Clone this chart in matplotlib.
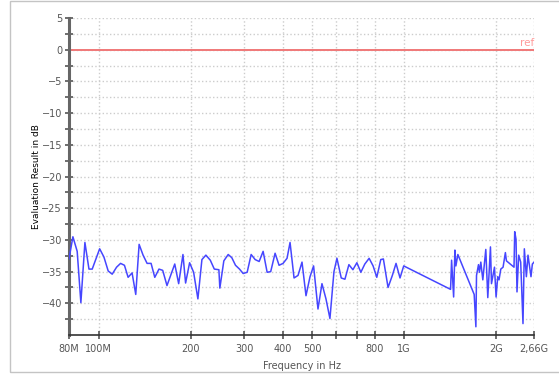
import numpy as np
import matplotlib
matplotlib.use('Agg')
import matplotlib.pyplot as plt
from matplotlib.patches import Rectangle
from matplotlib.ticker import FixedLocator, NullFormatter

# Frequencies in MHz and evaluation results in dB
freq_mhz = [
    80.0, 82.4, 85.1, 87.5, 90.2, 93.0, 95.3, 100.8, 104.1, 107.5,
    110.8, 114.5, 118.0, 121.5, 124.9, 128.7, 132.3, 135.7, 139.8, 144.1,
    148.5, 152.7, 157.6, 162.1, 167.4, 177.5, 182.8, 188.8, 192.6, 198.5,
    204.6, 211.3, 217.8, 224.4, 232.0, 239.1, 247.5, 249.3, 256.9, 265.5,
    272.8, 280.5, 289.1, 297.2, 306.3, 315.6, 325.3, 335.2, 345.4, 356.0,
    365.7, 378.0, 389.5, 401.4, 413.6, 423.1, 436.0, 449.3, 463.0, 477.1,
    491.8, 505.2, 522.2, 538.1, 554.6, 571.4, 589.0, 602.4, 622.2, 639.7,
    659.2, 679.3, 700.0, 721.3, 743.2, 767.7, 791.0, 813.3, 838.1, 854.7,
    885.3, 914.5, 940.2, 968.9, 996.2, 1418, 1429, 1451, 1465, 1476,
    1498, 1694, 1716, 1724, 1750, 1763, 1781, 1808, 1849, 1877,
    1915, 1930, 1974, 1998, 2023, 2043, 2070, 2106, 2143, 2160,
    2287, 2299, 2322, 2339, 2369, 2405, 2447, 2472, 2510, 2541,
    2599, 2626, 2660,
]
result_db = [
    -33.0, -29.5, -31.8, -39.9, -30.4, -34.6, -34.6, -31.4, -32.7, -34.9,
    -35.4, -34.3, -33.7, -34.0, -35.9, -35.2, -38.6, -30.7, -32.4, -33.7,
    -33.7, -35.9, -34.6, -34.8, -37.2, -33.8, -36.9, -32.3, -36.8, -33.6,
    -35.1, -39.3, -33.1, -32.4, -33.2, -34.6, -34.7, -37.6, -33.3, -32.3,
    -32.8, -34.0, -34.6, -35.3, -35.1, -32.3, -33.1, -33.4, -31.8, -35.1,
    -35.0, -32.1, -34.0, -33.7, -32.9, -30.4, -36.0, -35.6, -33.5, -38.8,
    -35.8, -34.1, -40.9, -36.9, -39.3, -42.4, -35.0, -32.9, -36.0, -36.2,
    -33.9, -34.7, -33.6, -35.1, -33.8, -32.9, -34.1, -35.9, -33.1, -33.0,
    -37.5, -35.6, -33.7, -36.0, -34.1, -37.8, -33.2, -39.0, -31.6, -34.1,
    -32.3, -38.6, -43.7, -35.6, -33.9, -35.1, -33.5, -36.3, -31.5, -39.1,
    -31.1, -36.9, -34.3, -39.0, -35.8, -36.3, -34.6, -34.3, -32.0, -33.3,
    -34.3, -28.7, -29.9, -38.2, -32.4, -33.5, -43.2, -31.4, -35.8, -32.4,
    -35.8, -33.8, -33.5,
]

# Reference level and axis ticks
ref_db = 0
x_ticks_mhz = [80, 100, 200, 300, 400, 500, 600, 700, 800, 1000, 2000, 2660]
x_tick_labels = ['80M', '100M', '200', '300', '400', '500', '', '', '800', '1G', '2G', '2,66G']
y_major = [5, 0, -5, -10, -15, -20, -25, -30, -35, -40]
y_minor = [2.5, -2.5, -7.5, -12.5, -17.5, -22.5, -27.5, -32.5, -37.5, -42.5]

plt.rcParams['font.family'] = ['DejaVu Sans']

fig = plt.figure(figsize=(5.59, 3.76), dpi=100)
ax = fig.add_axes([0.1234, 0.109, 0.832, 0.843])

# light frame around the whole picture (open on the right)
fig.patches.append(Rectangle((10 / 559, 0.0106), 1.2, 0.986, transform=fig.transFigure,
                             fill=False, edgecolor='#c4c4c4', linewidth=1.0))

freq = np.array(freq_mhz) * 1e6
ax.plot(freq, result_db, color='#4646ff', linewidth=1.1, zorder=3)
ax.axhline(ref_db, color='#f07878', linewidth=1.4, zorder=2)
ax.text(2660e6, ref_db + 0.3, 'ref', color='#ff9a9a', fontsize=7.5,
        ha='right', va='bottom')

ax.set_xscale('log')
ax.set_xlim(80e6, 2660e6)
ax.set_ylim(-45, 5)

ax.xaxis.set_major_locator(FixedLocator([f * 1e6 for f in x_ticks_mhz]))
ax.xaxis.set_minor_locator(FixedLocator([]))
ax.xaxis.set_minor_formatter(NullFormatter())
ax.set_xticklabels(x_tick_labels)
ax.yaxis.set_major_locator(FixedLocator(y_major))
ax.yaxis.set_minor_locator(FixedLocator(y_minor))

ax.tick_params(axis='both', which='both', direction='inout', length=6,
               width=1.2, color='#555555', labelcolor='#555555', labelsize=7)
ax.tick_params(axis='y', pad=2)

# dotted grid, horizontal at every 2.5 dB
ax.grid(True, axis='y', which='both', color='#cccccc', linestyle=':', linewidth=1.0)
ax.grid(True, axis='x', which='major', color='#cccccc', linestyle=':', linewidth=1.0)
ax.set_axisbelow(True)

for side in ['top', 'right']:
    ax.spines[side].set_visible(False)
ax.spines['left'].set_color('#666666')
ax.spines['left'].set_linewidth(2.2)
ax.spines['bottom'].set_color('#333333')
ax.spines['bottom'].set_linewidth(1.2)

ax.set_ylabel('Evaluation Result in dB', fontsize=6.5, color='black', labelpad=0)
ax.set_xlabel('Frequency in Hz', fontsize=7, color='#555555', labelpad=5)

fig.savefig('out.png', dpi=100)
